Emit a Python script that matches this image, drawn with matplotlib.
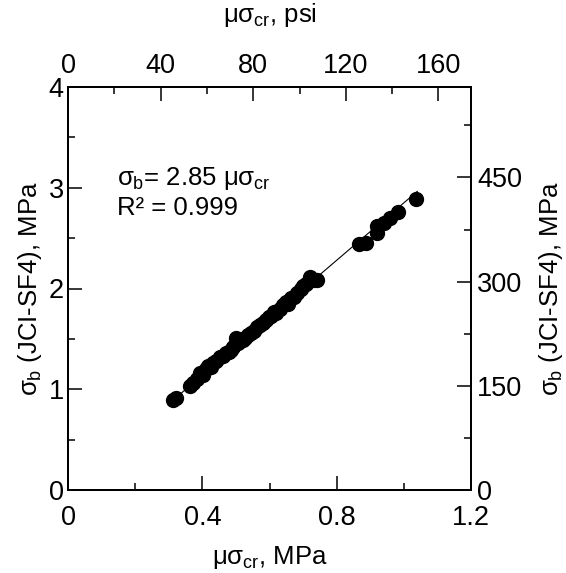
import matplotlib
matplotlib.use("Agg")
import matplotlib.pyplot as plt
from matplotlib.ticker import MultipleLocator

plt.rcParams['font.family'] = ['Liberation Sans', 'DejaVu Sans']
plt.rcParams['mathtext.fontset'] = 'custom'
plt.rcParams['mathtext.rm'] = 'Liberation Sans'
plt.rcParams['mathtext.it'] = 'Liberation Sans'

mu_sigma_cr = [0.313, 0.322, 0.364, 0.373, 0.385, 0.394, 0.402, 0.410, 0.418, 0.425,
               0.433, 0.441, 0.454, 0.462, 0.470, 0.478, 0.484, 0.491, 0.499, 0.505,
               0.512, 0.520, 0.528, 0.536, 0.545, 0.553, 0.563, 0.571, 0.580, 0.590,
               0.598, 0.605, 0.612, 0.620, 0.630, 0.640, 0.650, 0.655, 0.663, 0.672,
               0.683, 0.693, 0.700, 0.710, 0.722, 0.733, 0.742, 0.866, 0.887, 0.919,
               0.920, 0.941, 0.959, 0.983, 1.036]
sigma_b = [0.89, 0.91, 1.03, 1.06, 1.10, 1.16, 1.14, 1.20, 1.23, 1.22,
           1.26, 1.28, 1.32, 1.33, 1.36, 1.37, 1.39, 1.42, 1.51, 1.46,
           1.48, 1.49, 1.51, 1.54, 1.56, 1.58, 1.62, 1.64, 1.66, 1.69,
           1.72, 1.73, 1.77, 1.76, 1.80, 1.84, 1.87, 1.85, 1.91, 1.92,
           1.96, 2.00, 2.02, 2.04, 2.11, 2.08, 2.08, 2.44, 2.45, 2.55,
           2.62, 2.65, 2.70, 2.76, 2.89]
slope = 2.85
fit_x = [0.30, 1.04]
fit_y = [slope * v for v in fit_x]
psi_per_mpa = 145.04

bottom_ticks = [0, 0.4, 0.8, 1.2]
bottom_labels = ['0', '0.4', '0.8', '1.2']
left_ticks = [0, 1, 2, 3, 4]
top_ticks = [0, 40, 80, 120, 160]
right_ticks = [0, 150, 300, 450]

fig = plt.figure(figsize=(5.66, 5.73), dpi=100)
ax = fig.add_axes([68/566, 83/573, 403/566, 403/573])

ax.plot(fit_x, fit_y, color='black', lw=0.8, zorder=2)
ax.plot(mu_sigma_cr, sigma_b, 'o', color='black', ms=10, zorder=3)

ax.set_xlim(0, 1.2)
ax.set_ylim(0, 4)
ax.set_xticks(bottom_ticks)
ax.set_xticklabels(bottom_labels)
ax.set_yticks(left_ticks)
ax.xaxis.set_minor_locator(MultipleLocator(0.2))
ax.yaxis.set_minor_locator(MultipleLocator(0.5))

tfs = 19.5
lfs = 18.5
ax.set_xlabel(r'$\mu\sigma_{\mathrm{cr}}$, MPa', fontsize=lfs, labelpad=9)
ax.set_ylabel(r'$\sigma_{\mathrm{b}}$ (JCI-SF4), MPa', fontsize=lfs, labelpad=3)

axt = ax.twiny()
axt.set_xlim(0, 1.2 * psi_per_mpa)
axt.set_xticks(top_ticks)
axt.xaxis.set_minor_locator(MultipleLocator(20))
axt.set_xlabel(r'$\mu\sigma_{\mathrm{cr}}$, psi', fontsize=lfs, labelpad=22)

axr = ax.twinx()
axr.set_ylim(0, 4 * psi_per_mpa)
axr.set_yticks(right_ticks)
axr.yaxis.set_minor_locator(MultipleLocator(75))
axr.set_ylabel(r'$\sigma_{\mathrm{b}}$ (JCI-SF4), MPa', fontsize=lfs, labelpad=10.5)

for a in (ax, axt, axr):
    a.tick_params(which='major', direction='in', length=10, width=1.1, labelsize=tfs)
    a.tick_params(which='minor', direction='in', length=5, width=1.1)
    for s in a.spines.values():
        s.set_linewidth(1.3)

ax.tick_params(top=False, right=False)
ax.tick_params(axis='x', which='major', pad=11)
ax.tick_params(axis='y', which='major', pad=3)
axt.tick_params(axis='x', which='major', pad=6)
axr.tick_params(axis='y', which='major', pad=4.5)

ax.text(0.145, 3.03, r'$\sigma_{\mathrm{b}}$= 2.85 $\mu\sigma_{\mathrm{cr}}$', fontsize=18.5)
ax.text(0.145, 2.73, 'R² = 0.999', fontsize=18.5)

fig.savefig('out.png', dpi=100)
